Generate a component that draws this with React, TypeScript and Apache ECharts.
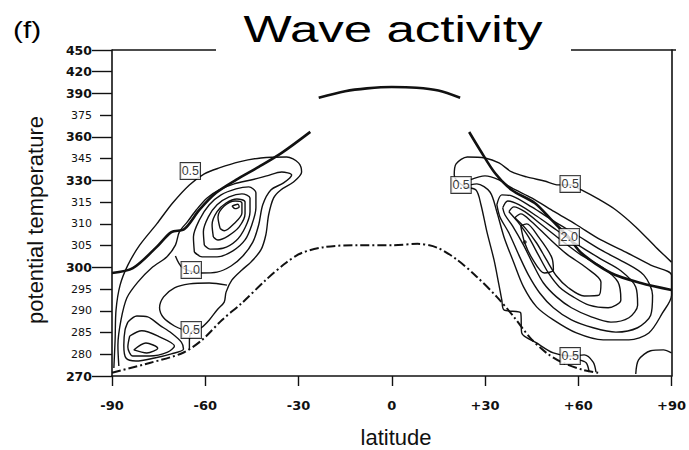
import React, { useEffect, useRef } from "react";
import * as echarts from "echarts";

// ---- axes ----
const thetaTicks = [270, 280, 285, 290, 295, 300, 305, 310, 315, 330, 345, 360, 375, 390, 420, 450];
const majorThetaTicks = [270, 300, 330, 360, 390, 420, 450];
const latTicks = [-90, -60, -30, 0, 30, 60, 90];

// ---- thick lines (lat, potential temperature) ----
const tropopauseArc = [[-23.5, 387], [-15, 393], [-8, 397], [0, 399], [8, 398], [15, 394], [22, 387]];
const jetLeft = [[-90, 298.7], [-83.3, 299.8], [-75.6, 304.7], [-70.9, 308.1], [-66.7, 308.8], [-61.9, 313.2], [-56.5, 321.4], [-50.1, 330.3], [-42.8, 339.3], [-35.4, 349.0], [-26.2, 363.5]];
const jetRight = [[24.9, 363.4], [28.4, 351.0], [33.2, 335.1], [38.6, 323.4], [46.0, 314.8], [51.4, 310.9], [56.8, 307.0], [61.0, 303.3], [70.5, 298.7], [80.1, 296.4], [90, 294.8]];
const surfaceTheta = [[-90, 271.5], [-77.9, 276.0], [-67.3, 280.3], [-61.0, 283.3], [-54.6, 287.9], [-48.2, 291.8], [-40.5, 297.1], [-34.1, 301.0], [-29.0, 303.3], [-21.4, 304.7], [-10.9, 305.1], [0.3, 305.1], [8.3, 305.4], [14.7, 304.5], [21.1, 301.7], [27.4, 297.8], [33.8, 293.2], [39.3, 288.6], [44.4, 283.9], [49.8, 280.3], [55.2, 276.0], [61.6, 272.8], [66.7, 271.4]];

// ---- southern hemisphere contours ----
const southOuter05 = [[-89.4, 273.7], [-89.0, 283.3], [-88.7, 290.2], [-87.4, 295.9], [-84.9, 300.5], [-81.1, 305.1], [-75.6, 310.0], [-70.5, 314.8], [-65.1, 326.9], [-60.3, 334.5], [-55.5, 338.6], [-49.1, 342.8], [-42.1, 345.5], [-33.8, 346.2], [-30.0, 342.1], [-29.0, 335.8], [-31.6, 328.9], [-35.7, 323.4], [-38.0, 317.9], [-39.6, 312.1], [-40.5, 307.5], [-42.1, 304.0], [-45.3, 301.2], [-48.2, 299.4], [-51.4, 297.1], [-53.3, 294.3], [-53.9, 292.0], [-56.2, 290.2], [-58.7, 287.9], [-61.3, 286.1], [-64.5, 285.1], [-65.1, 282.8], [-65.1, 281.0]];
const southContour10 = [[-87.8, 274.6], [-88.1, 282.1], [-87.1, 287.9], [-85.2, 293.0], [-81.7, 296.6], [-77.2, 299.9], [-72.4, 302.4], [-69.6, 305.1], [-68.3, 308.2], [-65.7, 310.5], [-62.9, 313.2], [-59.4, 317.9], [-55.5, 323.4], [-50.7, 327.6], [-45.3, 330.3], [-40.2, 333.1], [-35.4, 335.8], [-32.2, 333.8], [-34.8, 328.3], [-38.9, 323.4], [-41.5, 314.4], [-42.8, 309.8], [-44.7, 305.8], [-47.9, 302.6], [-51.7, 300.3], [-56.2, 298.9], [-61.3, 298.7], [-67.3, 299.9], [-69.6, 302.6]];
const southBay = [[-53.0, 295.9], [-58.7, 296.4], [-65.1, 296.2], [-69.9, 295.3], [-73.4, 293.2], [-74.7, 290.7], [-73.4, 288.4], [-69.9, 286.5], [-67.0, 285.6]];
const southCore1 = [[-63.5, 303.5], [-63.8, 307.0], [-61.9, 310.9], [-58.7, 314.4], [-54.9, 320.0], [-50.1, 324.1], [-46.0, 325.5], [-43.7, 321.4], [-43.7, 313.7], [-45.0, 309.8], [-47.2, 306.3], [-51.1, 303.8], [-56.2, 302.4], [-61.0, 302.4]];
const southCore2 = [[-60.3, 305.1], [-60.6, 308.2], [-59.0, 311.6], [-56.2, 314.4], [-52.3, 318.6], [-48.2, 320.7], [-45.6, 317.9], [-45.6, 312.8], [-47.2, 309.1], [-50.1, 306.1], [-54.3, 304.4], [-58.4, 304.2]];
const southCore3 = [[-57.4, 307.0], [-57.8, 309.8], [-56.2, 312.8], [-53.3, 314.8], [-49.8, 317.2], [-47.2, 315.1], [-47.2, 312.3], [-49.1, 309.3], [-52.7, 307.2], [-55.9, 306.3]];
const southCore4 = [[-55.2, 308.9], [-55.9, 311.6], [-53.9, 314.1], [-50.4, 315.8], [-48.2, 314.8], [-48.2, 312.5], [-51.1, 309.8], [-53.9, 308.4]];
const southCore5 = [[-51.4, 314.1], [-49.5, 314.5], [-49.1, 313.9], [-50.4, 313.5]];
const southLow1 = [[-84.9, 287.4], [-82.0, 288.8], [-78.5, 288.6], [-74.7, 286.7], [-70.9, 284.9], [-67.7, 282.8], [-67.0, 281.2], [-70.9, 280.1], [-76.3, 278.3], [-82.3, 276.9], [-85.5, 278.3], [-86.2, 282.1], [-85.8, 285.6]];
const southLow2 = [[-84.3, 284.2], [-80.4, 285.4], [-74.7, 284.0], [-69.9, 281.9], [-72.1, 280.5], [-77.9, 279.2], [-83.3, 279.2], [-84.9, 281.7]];
const southLow3 = [[-83.0, 281.0], [-79.1, 282.6], [-75.3, 281.4], [-78.8, 280.3]];

// ---- northern hemisphere contours ----
const northOuter05 = [[65.7, 271.8], [64.8, 276.4], [61.9, 279.7], [57.4, 279.2], [52.0, 280.3], [46.6, 282.6], [41.8, 284.9], [41.5, 289.5], [36.1, 290.2], [35.4, 292.5], [34.5, 295.9], [32.9, 301.7], [30.6, 308.2], [28.7, 314.4], [27.1, 323.4], [23.0, 326.2], [20.1, 333.8], [20.7, 341.4], [24.3, 346.2], [30.0, 345.5], [34.5, 342.1], [38.6, 335.8], [43.4, 332.4], [49.1, 329.6], [53.6, 326.9], [57.4, 326.9], [61.0, 323.4], [66.4, 317.2], [72.1, 313.2], [78.5, 309.3], [84.9, 304.7], [90.0, 301.2]];
const northContour0 = [[25.2, 330.3], [30.0, 333.1], [34.5, 330.3], [38.6, 324.8], [45.0, 317.9], [52.3, 312.8], [59.4, 309.8], [67.3, 306.3], [75.3, 303.5], [83.3, 300.5], [90.0, 298.2], [90.0, 293.6], [87.1, 289.5], [82.7, 284.9], [76.3, 283.3], [68.0, 283.3], [59.4, 284.9], [52.0, 287.9], [46.6, 290.9], [42.4, 295.5], [39.3, 301.0], [36.1, 307.0], [33.8, 312.8], [31.6, 322.0], [27.4, 327.6], [25.2, 326.9]];
const northCore1 = [[33.8, 314.4], [35.4, 320.0], [38.6, 319.3], [45.0, 313.9], [52.0, 310.7], [59.4, 307.5], [67.3, 304.0], [74.7, 301.2], [81.1, 298.2], [83.9, 293.6], [83.3, 289.0], [79.1, 286.1], [72.1, 285.1], [64.8, 286.1], [57.8, 287.9], [52.0, 290.7], [47.6, 294.1], [44.0, 298.2], [40.9, 302.8], [37.7, 307.9], [34.8, 311.6]];
const northCore2 = [[35.7, 313.7], [37.3, 315.8], [40.9, 314.4], [46.6, 311.8], [53.0, 308.6], [60.0, 305.1], [67.3, 301.9], [73.7, 299.2], [78.5, 295.5], [79.1, 291.3], [76.3, 288.4], [70.5, 287.4], [64.2, 288.6], [57.8, 290.7], [53.0, 293.2], [48.8, 296.4], [45.6, 300.5], [42.4, 305.1], [38.9, 309.5], [36.4, 312.1]];
const northCore3 = [[37.7, 312.8], [39.3, 313.9], [42.8, 312.8], [48.2, 309.8], [53.9, 306.6], [61.0, 302.8], [68.0, 299.9], [72.8, 296.6], [73.7, 292.5], [69.6, 290.7], [63.5, 291.3], [58.4, 293.2], [53.9, 295.5], [50.4, 298.7], [47.2, 302.8], [44.0, 307.0], [40.5, 310.5]];
const northCore4 = [[39.6, 311.4], [41.5, 312.3], [45.0, 310.5], [50.4, 306.8], [56.2, 303.1], [62.6, 299.9], [67.3, 296.6], [66.7, 293.6], [61.9, 293.4], [56.8, 295.3], [53.0, 298.0], [49.8, 301.7], [46.6, 305.6], [43.1, 308.9]];
const northCore5 = [[41.5, 309.5], [43.4, 310.0], [47.2, 307.0], [51.4, 302.4], [52.0, 299.4], [49.1, 298.7], [45.3, 301.9], [42.8, 305.6]];
const northArcLow = [[60.3, 277.4], [62.6, 276.0], [63.5, 271.8]];
const northArcCorner = [[78.5, 270.9], [79.4, 277.4], [83.3, 280.8], [87.4, 281.0], [90, 280.3]];
const northMaxDot = [[42.8, 305.8]];

// ---- contour labels ----
const labelLat = [-64.8, -64.5, -64.5, 22.3, 57.4, 57.1, 57.4];
const labelTheta = [336.5, 299.4, 285.6, 326.9, 327.6, 307.0, 279.2];
const labelText = ["0.5", "1.0", "0.5", "0.5", "0.5", "2.0", "0.5"];

function thetaToPos(t: number): number {
  const n = thetaTicks.length;
  if (t <= thetaTicks[0]) return (t - thetaTicks[0]) / (thetaTicks[1] - thetaTicks[0]);
  for (let i = 0; i < n - 1; i++) {
    if (t <= thetaTicks[i + 1]) return i + (t - thetaTicks[i]) / (thetaTicks[i + 1] - thetaTicks[i]);
  }
  return n - 1;
}
const toXY = (pts: number[][]) => pts.map(([lat, th]) => [lat, thetaToPos(th)]);
const closed = (pts: number[][]) => [...pts, pts[0]];

const INK = "#111";
const SANS = "Liberation Sans, Arial, sans-serif";

function lineSeries(data: number[][], width: number, extra: any = {}) {
  return {
    type: "line",
    data: toXY(data),
    showSymbol: false,
    symbol: "none",
    silent: true,
    smooth: 0.3,
    xAxisIndex: 0,
    yAxisIndex: 0,
    lineStyle: { color: INK, width, ...(extra.lineStyle || {}) },
    z: extra.z || 2,
  };
}

export default function App() {
  const ref = useRef<HTMLDivElement>(null);
  useEffect(() => {
    document.body.style.margin = "0";
    if (!ref.current) return;
    const chart = echarts.init(ref.current, undefined, { renderer: "svg" });
    const isMajor = (i: number) => majorThetaTicks.includes(thetaTicks[i]);
    const tickFont = "DejaVu Sans";

    const openSouth = [southOuter05, southContour10, southBay].map((c) => lineSeries(c, 1.4));
    const loops = [
      southCore1, southCore2, southCore3, southCore4, southCore5,
      southLow1, southLow2, southLow3,
      northCore1, northCore2, northCore3, northCore4, northCore5,
    ].map((c) => lineSeries(closed(c), 1.4));
    const openNorth = [northOuter05, northContour0, northArcLow, northArcCorner].map((c) => lineSeries(c, 1.4));

    const option: any = {
      animation: false,
      backgroundColor: "#fff",
      grid: { left: 112, top: 50, width: 564, height: 326, containLabel: false },
      xAxis: [
        {
          type: "value",
          min: latTicks[0],
          max: latTicks[latTicks.length - 1],
          interval: 30,
          axisLine: { onZero: false, lineStyle: { color: INK, width: 1.6 } },
          axisTick: { show: true, length: 10, lineStyle: { color: INK, width: 1.4 } },
          splitLine: { show: false },
          axisLabel: {
            margin: 23,
            color: INK,
            fontFamily: tickFont,
            fontWeight: "bold",
            fontSize: 13,
            formatter: (v: number) => (v > 0 ? "+" + v : String(v)),
          },
        },
      ],
      yAxis: [
        { type: "value", min: 0, max: thetaTicks.length - 1, show: false, splitLine: { show: false } },
        {
          type: "category",
          data: thetaTicks.map(String),
          boundaryGap: false,
          position: "left",
          axisLine: { show: true, lineStyle: { color: INK, width: 1.6 } },
          axisTick: { show: true, length: 20, interval: (i: number) => isMajor(i), lineStyle: { color: INK, width: 1.4 } },
          axisLabel: {
            interval: (i: number) => isMajor(i),
            margin: 20,
            color: INK,
            fontFamily: tickFont,
            fontWeight: "bold",
            fontSize: 12.5,
          },
          splitLine: { show: false },
        },
        {
          type: "category",
          data: thetaTicks.map(String),
          boundaryGap: false,
          position: "left",
          axisLine: { show: false },
          axisTick: { show: true, length: 12, interval: (i: number) => !isMajor(i), lineStyle: { color: INK, width: 1.4 } },
          axisLabel: {
            interval: (i: number) => !isMajor(i),
            margin: 20,
            color: INK,
            fontFamily: tickFont,
            fontSize: 11,
          },
          splitLine: { show: false },
        },
        {
          type: "value",
          position: "right",
          min: 0,
          max: thetaTicks.length - 1,
          axisLine: { show: true, lineStyle: { color: INK, width: 1.6 } },
          axisTick: { show: false },
          axisLabel: { show: false },
          splitLine: { show: false },
        },
      ],
      graphic: [
        { type: "line", shape: { x1: 112, y1: 50, x2: 216, y2: 50 }, style: { stroke: INK, lineWidth: 1.6 } },
        { type: "line", shape: { x1: 571, y1: 50, x2: 676, y2: 50 }, style: { stroke: INK, lineWidth: 1.6 } },
        {
          type: "text", x: 393, y: 29, scaleX: 1.38,
          style: { text: "Wave activity", fontSize: 37, fontFamily: SANS, fill: "#000", align: "center", verticalAlign: "middle", textAlign: "center", textVerticalAlign: "middle" },
        },
        {
          type: "text", x: 13, y: 30, scaleX: 1.3,
          style: { text: "(f)", fontSize: 23, fontFamily: SANS, fill: "#000", align: "left", verticalAlign: "middle", textAlign: "left", textVerticalAlign: "middle" },
        },
        {
          type: "text", x: 35, y: 220, rotation: Math.PI / 2,
          style: { text: "potential temperature", fontSize: 22, fontFamily: SANS, fill: "#111", align: "center", verticalAlign: "middle", textAlign: "center", textVerticalAlign: "middle" },
        },
        {
          type: "text", x: 396, y: 437,
          style: { text: "latitude", fontSize: 22, fontFamily: SANS, fill: "#111", align: "center", verticalAlign: "middle", textAlign: "center", textVerticalAlign: "middle" },
        },
      ],
      series: [
        ...openSouth,
        ...loops,
        ...openNorth,
        lineSeries(surfaceTheta, 2, { lineStyle: { type: [9, 3, 2, 3] }, z: 3 }),
        lineSeries(jetLeft, 2.6, { z: 4 }),
        lineSeries(jetRight, 2.6, { z: 4 }),
        lineSeries(tropopauseArc, 2.6, { z: 4 }),
        {
          type: "scatter",
          data: toXY(northMaxDot),
          symbolSize: 4,
          itemStyle: { color: INK },
          silent: true,
          z: 4,
        },
        {
          type: "scatter",
          silent: true,
          symbolSize: 1,
          itemStyle: { color: "rgba(0,0,0,0)" },
          z: 10,
          data: labelText.map((t, i) => ({ name: t, value: [labelLat[i], thetaToPos(labelTheta[i])] })),
          label: {
            show: true,
            position: "inside",
            formatter: "{b}",
            fontFamily: SANS,
            fontSize: 12.5,
            color: "#000",
            backgroundColor: "#fff",
            borderColor: "#000",
            borderWidth: 1,
            padding: [2, 1, 1, 1],
          },
        },
      ],
    };
    chart.setOption(option);
    return () => chart.dispose();
  }, []);
  return <div ref={ref} style={{ width: 689, height: 450 }} />;
}
